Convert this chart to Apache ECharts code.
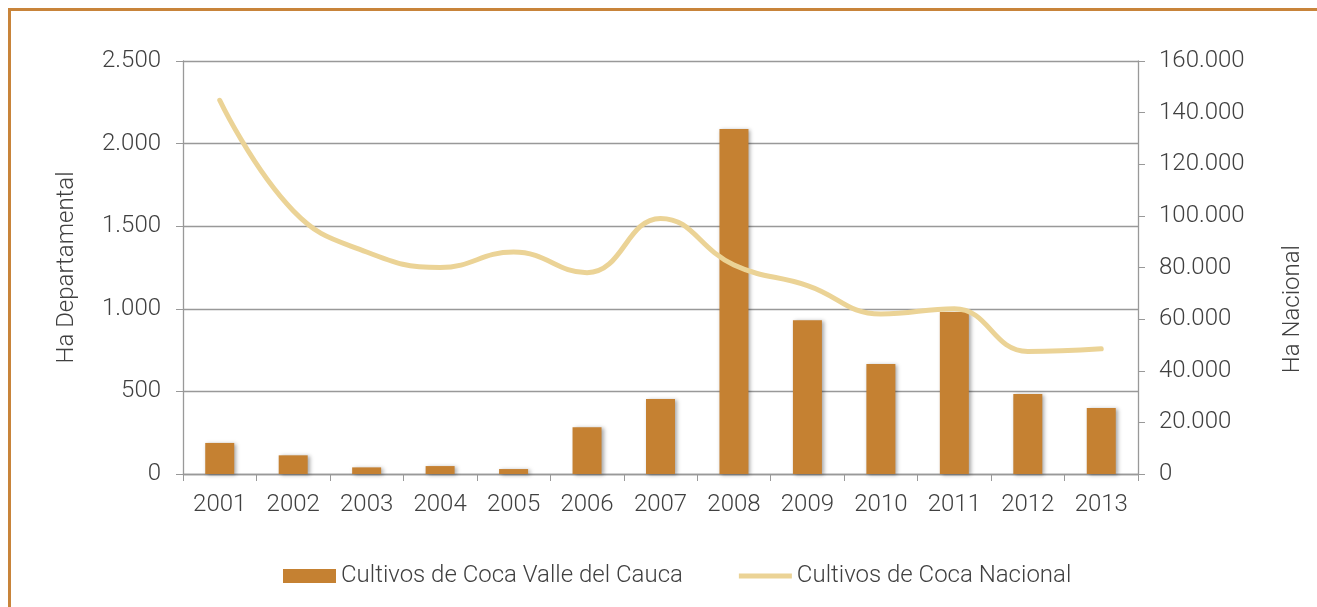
<!DOCTYPE html>
<html><head><meta charset="utf-8">
<script src="https://cdn.jsdelivr.net/npm/echarts@6/dist/echarts.min.js"></script>
<style>
html,body{margin:0;padding:0;background:#fff;}
#frame{position:absolute;left:8px;top:8px;width:1309px;height:599px;border-top:3px solid #C8843A;border-left:3px solid #C8843A;box-sizing:border-box;}
#main{position:absolute;left:0;top:0;width:1317px;height:607px;}
</style></head>
<body>
<div id="frame"></div>
<div id="main"></div>
<script>
const years = ['2001','2002','2003','2004','2005','2006','2007','2008','2009','2010','2011','2012','2013'];
const valleCauca = [188, 113, 40, 48, 30, 283, 454, 2089, 930, 666, 981, 484, 400];
const nacional = [144800, 102000, 86000, 80000, 86000, 78000, 99000, 81000, 73000, 62000, 64000, 47500, 48500];
const leftTicks = [0, 500, 1000, 1500, 2000, 2500];
const rightTicks = [0, 20000, 40000, 60000, 80000, 100000, 120000, 140000, 160000];

function fmt(v){ return String(v).replace(/\B(?=(\d{3})+(?!\d))/g, '.'); }
const font = 'Roboto';
const txt = '#404040';
const fs = 24;
const chart = echarts.init(document.getElementById('main'));
chart.setOption({
  animation: false,
  backgroundColor: 'transparent',
  textStyle: {fontFamily: font},
  grid: {left: 183, right: 179, top: 61, bottom: 133},
  legend: {
    bottom: 14, left: 278, itemGap: 56, itemWidth: 53, itemHeight: 14,
    textStyle: {fontSize: fs, color: txt, fontFamily: font, fontWeight: 300},
    data: [
      {name: 'Cultivos de Coca Valle del Cauca', icon: 'rect'},
      {name: 'Cultivos de Coca Nacional', icon: 'path://M0,0 L53,0 L53,5 L0,5 Z'}
    ]
  },
  xAxis: {
    type: 'category', data: years, boundaryGap: true,
    axisLine: {lineStyle: {color: '#999', width: 1.3}},
    axisTick: {show: true, length: 7, lineStyle: {color: '#999'}},
    axisLabel: {fontSize: fs, color: txt, fontWeight: 300, margin: 19}
  },
  yAxis: [
    {
      type: 'value', min: leftTicks[0], max: leftTicks[leftTicks.length-1], interval: 500,
      name: 'Ha Departamental', nameLocation: 'middle', nameGap: 104,
      nameTextStyle: {fontSize: fs, color: txt, fontWeight: 300},
      axisLine: {show: true, lineStyle: {color: '#999', width: 1.3}},
      axisTick: {show: true, length: 7, lineStyle: {color: '#999'}},
      axisLabel: {fontSize: fs, color: txt, fontWeight: 300, margin: 22, formatter: fmt},
      splitLine: {show: true, lineStyle: {color: '#999', width: 1.3}}
    },
    {
      type: 'value', min: rightTicks[0], max: rightTicks[rightTicks.length-1], interval: 20000,
      position: 'right',
      axisLine: {show: true, lineStyle: {color: '#999', width: 1.3}},
      axisTick: {show: true, length: 7, lineStyle: {color: '#999'}},
      axisLabel: {fontSize: fs, color: txt, fontWeight: 300, margin: 21, formatter: fmt},
      splitLine: {show: false}
    }
  ],
  graphic: [{
    type: 'text', left: 1281, top: 245, rotation: Math.PI/2,
    style: {text: 'Ha Nacional', fontSize: fs, fontFamily: font, fontWeight: 300, fill: txt}
  }],
  series: [
    {
      name: 'Cultivos de Coca Valle del Cauca', type: 'bar', yAxisIndex: 0, data: valleCauca,
      barWidth: 29,
      itemStyle: {color: '#C58132', shadowBlur: 4, shadowColor: 'rgba(0,0,0,0.35)', shadowOffsetX: 2, shadowOffsetY: 1}
    },
    {
      name: 'Cultivos de Coca Nacional', type: 'line', yAxisIndex: 1, data: nacional,
      smooth: 0.45, symbol: 'none', z: 5,
      lineStyle: {color: '#EBD396', width: 5, cap: 'round'},
      itemStyle: {color: '#EBD396'}
    }
  ]
});
</script>
</body></html>
